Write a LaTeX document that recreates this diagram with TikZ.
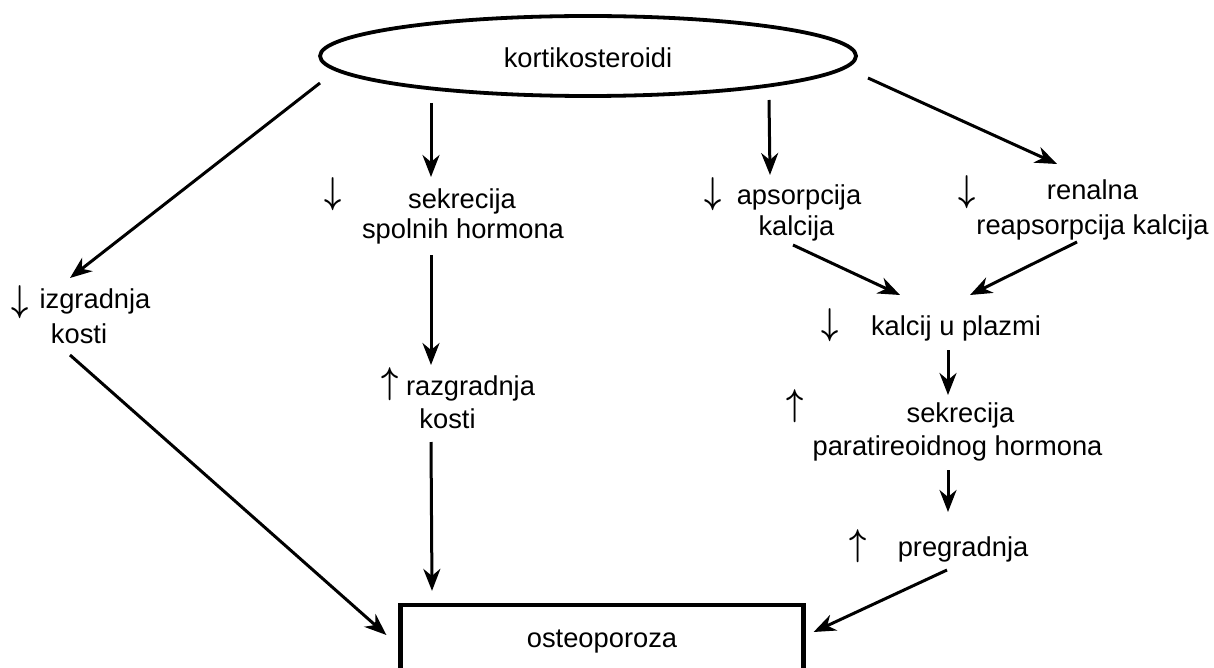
\documentclass[tikz,border=0pt]{standalone}
\usepackage{fontspec}
\usepackage{graphicx}
\setmainfont{Liberation Sans}
\usetikzlibrary{arrows.meta,shapes.geometric}
\newcommand{\dnar}{\scalebox{1.2}[1.5]{\boldmath$\downarrow$}}
\newcommand{\upar}{\scalebox{1.2}[1.5]{\boldmath$\uparrow$}}
\begin{document}
\begin{tikzpicture}[x=1pt,y=-1pt,
  txt/.style={anchor=base,inner sep=0pt,font=\fontsize{27.3}{32}\selectfont},
  arr/.style={line width=3pt,-{Stealth[length=22pt,width=17pt,inset=7pt]}},
  oval/.style={draw,ellipse,line width=3.8pt,inner sep=0pt,minimum width=536pt,minimum height=80pt,
    text height=30pt,text depth=6pt,font=\fontsize{27.3}{32}\selectfont},
  endbox/.style={draw,rectangle,line width=4.2pt,inner sep=0pt,minimum width=403pt,minimum height=70pt,
    text height=20pt,text depth=6pt,font=\fontsize{27.3}{32}\selectfont}]
\useasboundingbox (0,0) rectangle (1214,668);
\fill[white] (0,0) rectangle (1214,668);
% nodes
\node[oval] (ell) at (588,56) {kortikosteroidi};
\node[endbox] (box) at (602,640) {osteoporoza};
\node[txt] (izgA) at (20.5,311) {\dnar};
\node[txt] (izg1) at (95,308) {izgradnja};
\node[txt] (izg2) at (79,343) {kosti};
\node[txt] (sekA) at (333,204) {\dnar};
\node[txt] (sek1) at (462,209) {sekrecija};
\node[txt] (sek2) at (463,239) {spolnih hormona};
\node[txt] (razA) at (390.5,393) {\upar};
\node[txt] (raz1) at (470.5,395) {razgradnja};
\node[txt] (raz2) at (447.5,428) {kosti};
\node[txt] (apsA) at (713.5,204) {\dnar};
\node[txt] (aps1) at (799,205) {apsorpcija};
\node[txt] (aps2) at (796.5,236) {kalcija};
\node[txt] (renA) at (967.5,202) {\dnar};
\node[txt] (ren1) at (1092.5,200) {renalna};
\node[txt] (ren2) at (1092.5,235) {reapsorpcija kalcija};
\node[txt] (plA) at (830.5,334) {\dnar};
\node[txt] (pl) at (956,335) {kalcij u plazmi};
\node[txt] (pthA) at (795,415) {\upar};
\node[txt] (pth1) at (960.5,422) {sekrecija};
\node[txt] (pth2) at (957.5,455) {paratireoidnog hormona};
\node[txt] (preA) at (858,555) {\upar};
\node[txt] (pre) at (963,556) {pregradnja};
% connectors
\draw[arr] ([shift={(-268,27)}]ell.center) -- ([shift={(-25,-30)}]izg1.base);
\draw[arr] ([shift={(-9,12)}]izg2.base) -- ([shift={(-12,-5)}]box.west);
\draw[arr] ([shift={(-157,47)}]ell.center) -- ([shift={(-31,-32)}]sek1.base);
\draw[arr] ([shift={(-32,16)}]sek2.base) -- ([shift={(-39.5,-30)}]raz1.base);
\draw[arr] ([shift={(-16.5,14)}]raz2.base) -- ([shift={(-170,-12)}]box.north);
\draw[arr] ([shift={(181,44)}]ell.center) -- ([shift={(-29,-30)}]aps1.base);
\draw[arr] ([shift={(280,22)}]ell.center) -- ([shift={(-35.5,-36)}]ren1.base);
\draw[arr] ([shift={(-3.5,9)}]aps2.base) -- ([shift={(-56,-40)}]pl.base);
\draw[arr] ([shift={(-15.5,7)}]ren2.base) -- ([shift={(14,-40)}]pl.base);
\draw[arr] ([shift={(-8,15)}]pl.base) -- ([shift={(-12.5,-27)}]pth1.base);
\draw[arr] ([shift={(-9.5,15)}]pth2.base) -- ([shift={(-15,-44)}]pre.base);
\draw[arr] ([shift={(-16,14)}]pre.base) -- ([shift={(8,-8)}]box.east);
\end{tikzpicture}
\end{document}
